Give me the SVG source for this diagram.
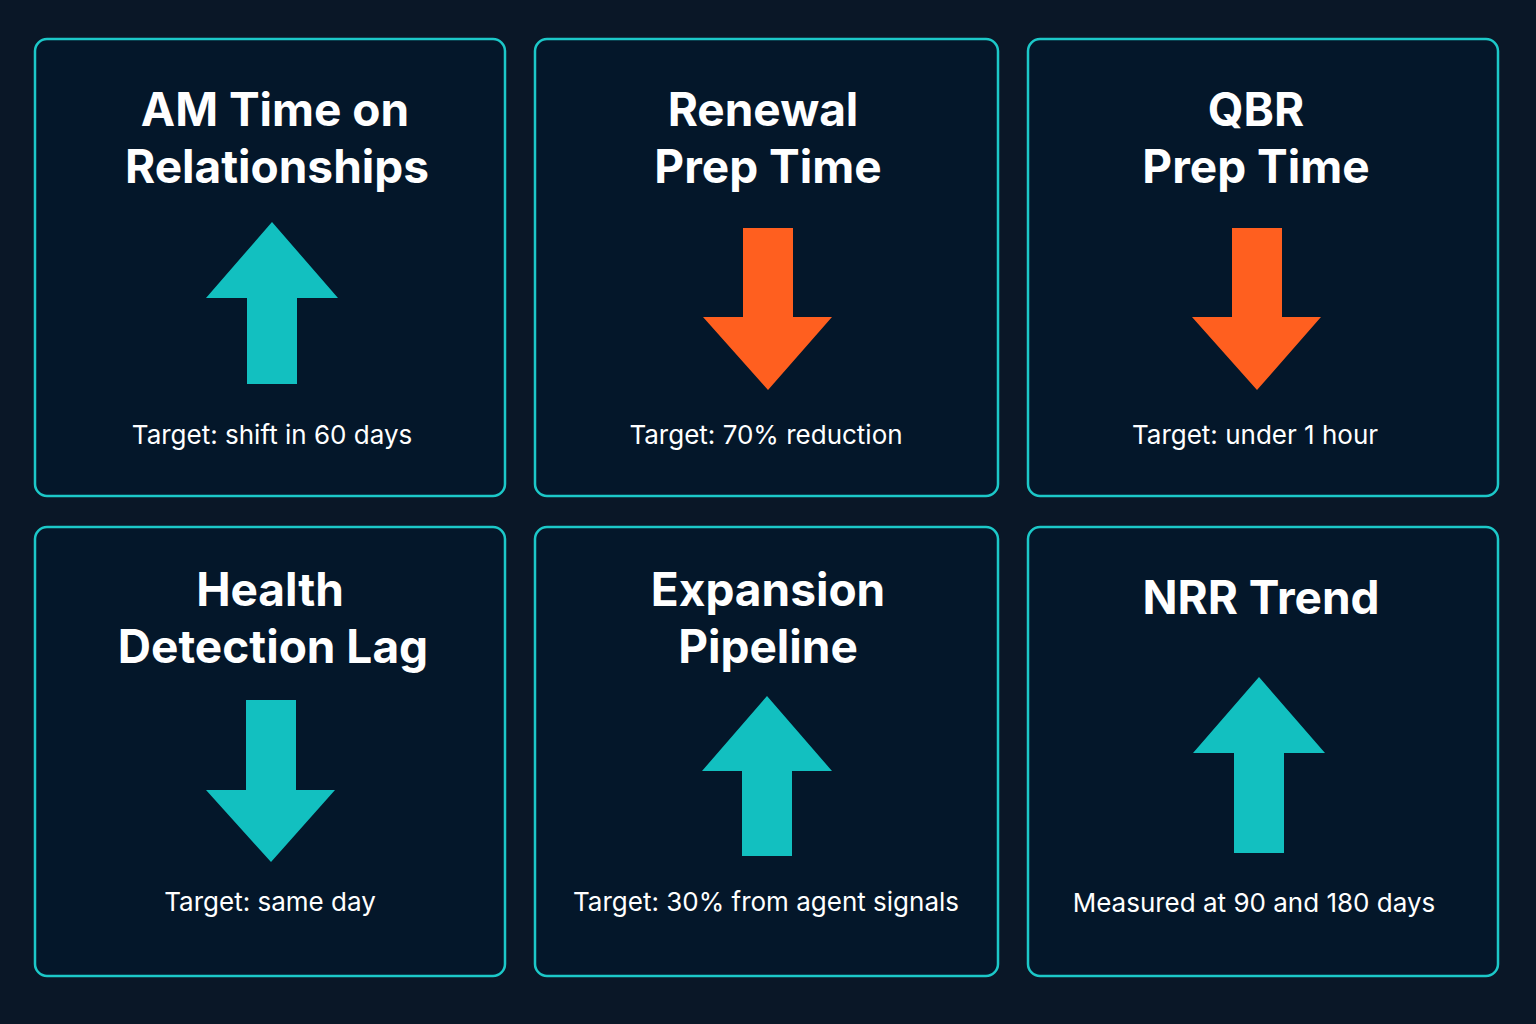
<svg xmlns="http://www.w3.org/2000/svg" width="1536" height="1024" viewBox="0 0 1536 1024">
<style>
.card{fill:#04172a;stroke:#1cc8c8;stroke-width:2.5}
.t{font-family:Inter,"Liberation Sans",sans-serif;font-weight:700;font-size:46px;fill:#fff;text-anchor:middle}
.s{font-family:Inter,"Liberation Sans",sans-serif;font-size:26px;fill:#fff;text-anchor:middle}
.up{fill:#12c0c0}.or{fill:#ff5f1f}
</style>
<rect width="1536" height="1024" fill="#0a1727"/>
<g id="c1"><rect class="card" x="35" y="39" width="470" height="457" rx="12"/>
<text class="t" x="275" y="126">AM Time on</text><text class="t" x="277" y="183">Relationships</text>
<path class="up" d="M272 222 L338 298 L297 298 L297 384 L247 384 L247 298 L206 298 Z"/>
<text class="s" x="272" y="444">Target: shift in 60 days</text></g>
<g id="c2"><rect class="card" x="535" y="39" width="463" height="457" rx="12"/>
<text class="t" x="763" y="126">Renewal</text><text class="t" x="768" y="183">Prep Time</text>
<path class="or" d="M743 228 L793 228 L793 317 L832 317 L768 390 L703 317 L743 317 Z"/>
<text class="s" x="766" y="444">Target: 70% reduction</text></g>
<g id="c3"><rect class="card" x="1028" y="39" width="470" height="457" rx="12"/>
<text class="t" x="1256" y="126">QBR</text><text class="t" x="1256" y="183">Prep Time</text>
<path class="or" d="M1232 228 L1282 228 L1282 317 L1321 317 L1257 390 L1192 317 L1232 317 Z"/>
<text class="s" x="1255" y="444">Target: under 1 hour</text></g>
<g id="c4"><rect class="card" x="35" y="527" width="470" height="449" rx="12"/>
<text class="t" x="270" y="606">Health</text><text class="t" x="273" y="663">Detection Lag</text>
<path class="up" d="M246 700 L296 700 L296 790 L335 790 L271 862 L206 790 L246 790 Z"/>
<text class="s" x="270" y="911">Target: same day</text></g>
<g id="c5"><rect class="card" x="535" y="527" width="463" height="449" rx="12"/>
<text class="t" x="768" y="606">Expansion</text><text class="t" x="768" y="663">Pipeline</text>
<path class="up" d="M767 696 L832 771 L792 771 L792 856 L742 856 L742 771 L702 771 Z"/>
<text class="s" x="766" y="911">Target: 30% from agent signals</text></g>
<g id="c6"><rect class="card" x="1028" y="527" width="470" height="449" rx="12"/>
<text class="t" x="1261" y="614">NRR Trend</text>
<path class="up" d="M1259 677 L1325 753 L1284 753 L1284 853 L1234 853 L1234 753 L1193 753 Z"/>
<text class="s" x="1254" y="912">Measured at 90 and 180 days</text></g>
<g id="connectors"/>
</svg>
